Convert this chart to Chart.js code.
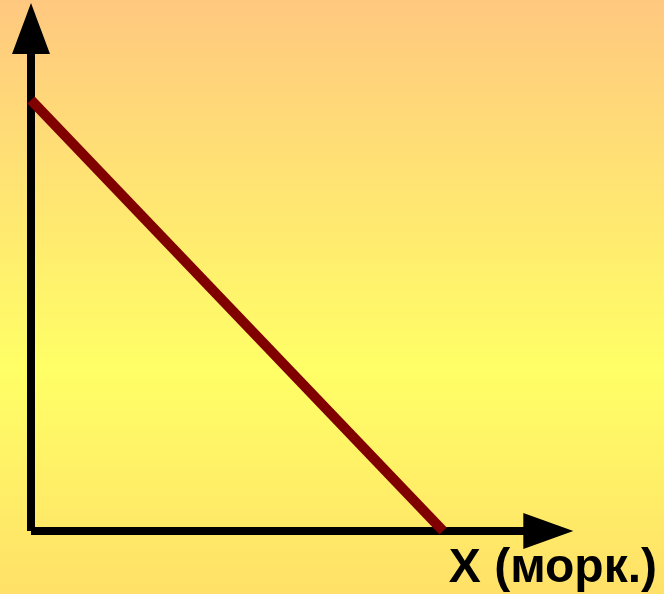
<!DOCTYPE html>
<html>
<head>
<meta charset="utf-8">
<script src="https://cdn.jsdelivr.net/npm/chart.js@4"></script>
<style>
  html, body { margin: 0; padding: 0; }
  #wrap { width: 664px; height: 594px; }
</style>
</head>
<body>
<div id="wrap"><canvas id="chart"></canvas></div>
<script>
  // production possibilities: two end points of the line
  const xValues = [0, 10];
  const yValues = [10, 0];
  const xLabel = 'X (морк.)';
  // where the axis arrows end, in axis units
  const xAxisEnd = 13.16;
  const yAxisEnd = 12.25;

  const points = xValues.map((x, i) => ({ x: x, y: yValues[i] }));

  const background = {
    id: 'background',
    beforeDraw(chart) {
      const { ctx, width, height } = chart;
      const g = ctx.createLinearGradient(0, 0, 0, height);
      g.addColorStop(0, '#FFC880');
      g.addColorStop(0.62, '#FFFF66');
      g.addColorStop(1, '#FFE068');
      ctx.save();
      ctx.fillStyle = g;
      ctx.fillRect(0, 0, width, height);
      ctx.restore();
    }
  };

  // black axes with arrow heads
  const axes = {
    id: 'axes',
    beforeDatasetsDraw(chart) {
      const { ctx, scales: { x, y } } = chart;
      const x0 = x.getPixelForValue(0);
      const y0 = y.getPixelForValue(0);
      const xEnd = x.getPixelForValue(xAxisEnd);
      const yEnd = y.getPixelForValue(yAxisEnd);
      ctx.save();
      ctx.strokeStyle = '#000';
      ctx.fillStyle = '#000';
      ctx.lineWidth = 8;
      ctx.lineCap = 'butt';
      ctx.beginPath();
      ctx.moveTo(x0, y0);
      ctx.lineTo(x0, yEnd + 40);
      ctx.moveTo(x0, y0);
      ctx.lineTo(xEnd - 40, y0);
      ctx.stroke();
      ctx.beginPath();
      ctx.moveTo(x0, yEnd);
      ctx.lineTo(x0 - 19, yEnd + 51);
      ctx.lineTo(x0 + 19, yEnd + 51);
      ctx.closePath();
      ctx.fill();
      ctx.beginPath();
      ctx.moveTo(xEnd, y0);
      ctx.lineTo(xEnd - 50, y0 - 18);
      ctx.lineTo(xEnd - 50, y0 + 18);
      ctx.closePath();
      ctx.fill();
      ctx.restore();
    }
  };

  new Chart(
    document.getElementById('chart'),
    {
      type: 'line',
      data: {
        datasets: [{
          data: points,
          borderColor: '#800000',
          borderWidth: 10,
          pointRadius: 0,
          clip: false,
          tension: 0
        }]
      },
      options: {
        responsive: true,
        maintainAspectRatio: false,
        animation: false,
        layout: {
          autoPadding: false,
          padding: { top: 3, left: 31, right: 7, bottom: 0 }
        },
        plugins: {
          legend: { display: false },
          tooltip: { enabled: false }
        },
        scales: {
          x: {
            type: 'linear',
            min: 0,
            max: 15.19,
            grid: { display: false, drawTicks: false },
            border: { display: false },
            ticks: { display: false },
            title: {
              display: true,
              text: xLabel,
              align: 'end',
              color: '#000',
              font: { family: 'Liberation Sans', size: 48, weight: 'bold' },
              padding: { top: 9.4, bottom: -4 }
            }
          },
          y: {
            display: false,
            min: 0,
            max: yAxisEnd
          }
        }
      },
      plugins: [background, axes]
    }
  );
</script>
</body>
</html>
